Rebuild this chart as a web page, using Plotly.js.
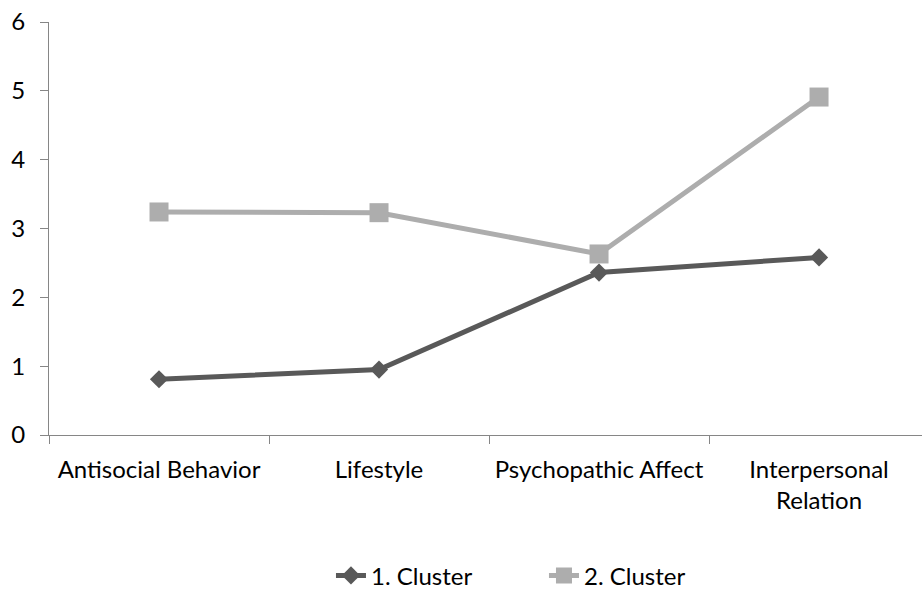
<!DOCTYPE html>
<html><head><meta charset="utf-8">
<script src="https://cdn.plot.ly/plotly-3.0.1.min.js"></script>
<style>html,body{margin:0;padding:0;background:#fff}#chart{width:922px;height:590px}</style>
</head><body><div id="chart"></div>
<script>
const categories = ["Antisocial Behavior", "Lifestyle", "Psychopathic Affect", "Interpersonal<br>Relation"];
const cluster1 = [0.81, 0.95, 2.36, 2.58];
const cluster2 = [3.24, 3.23, 2.63, 4.91];
const seriesNames = ["1. Cluster", "2. Cluster"];
const yTicks = [0, 1, 2, 3, 4, 5, 6];

const FONT = "Lato, 'Open Sans', sans-serif";
const data = [
  {x: categories, y: cluster1, name: seriesNames[0], type: "scatter", mode: "lines+markers",
   line: {color: "#595959", width: 5}, marker: {symbol: "diamond", size: 14, color: "#595959"}},
  {x: categories, y: cluster2, name: seriesNames[1], type: "scatter", mode: "lines+markers",
   line: {color: "#ADADAD", width: 5}, marker: {symbol: "square", size: 19, color: "#ADADAD"}}
];
const layout = {
  width: 922, height: 590,
  margin: {l: 49, r: 0, t: 22, b: 155},
  paper_bgcolor: "#fff", plot_bgcolor: "#fff",
  font: {family: FONT, size: 24, color: "#000"},
  xaxis: {type: "category", range: [-0.5, 3.468], showline: true, linecolor: "#868686", linewidth: 1,
    ticks: "outside", tickson: "boundaries", ticklen: 8, tickcolor: "#868686", showgrid: false,
    zeroline: false, ticklabelstandoff: 13, tickfont: {family: FONT, size: 24, color: "#000"}, fixedrange: true},
  yaxis: {range: [0, 6], tickvals: yTicks, showline: true, linecolor: "#868686", linewidth: 1,
    ticks: "outside", ticklen: 8, tickcolor: "#868686", showgrid: false, zeroline: false,
    ticklabelstandoff: 10, tickfont: {family: FONT, size: 24, color: "#000"}, fixedrange: true},
  showlegend: true,
  legend: {orientation: "h", xref: "container", x: 0.59, xanchor: "center", yref: "container", y: 0.024, yanchor: "middle",
    font: {family: FONT, size: 24, color: "#000"}, entrywidth: 168, traceorder: "normal"}
};
Plotly.newPlot("chart", data, layout, {displayModeBar: false, staticPlot: true});
</script></body></html>
